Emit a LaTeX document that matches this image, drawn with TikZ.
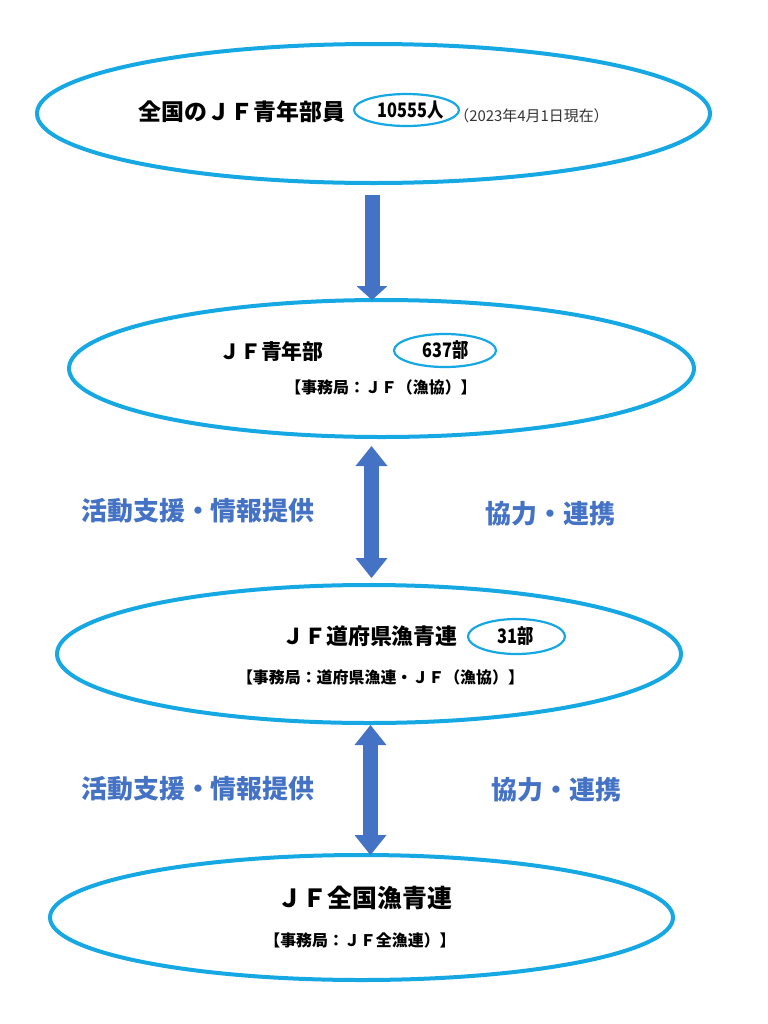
\documentclass[tikz,border=0pt]{standalone}
\usepackage{fontspec}
\setmainfont{Noto Sans CJK JP}
\newfontfamily\narrowjp[FakeStretch=0.82]{Noto Sans CJK JP}
\usetikzlibrary{shapes.geometric,arrows.meta}
\definecolor{ringcol}{HTML}{16A8E3}
\definecolor{arrcol}{HTML}{4472C4}
\begin{document}
\begin{tikzpicture}[x=1bp,y=-1bp,line join=round,
ring/.style={draw=ringcol,ellipse,line width=4bp,inner sep=0pt,outer sep=0pt},
sring/.style={draw=ringcol,ellipse,line width=2.2bp,inner sep=0pt,outer sep=0pt},
ttl/.style={font=\bfseries\fontsize{22}{24}\selectfont,inner sep=0pt},
sub/.style={font=\bfseries\fontsize{16}{18}\selectfont,inner sep=0pt},
num/.style={font=\narrowjp\bfseries\fontsize{20}{22}\selectfont,inner sep=0pt},
lbl/.style={text=arrcol,font=\bfseries\fontsize{26}{28}\selectfont,inner sep=0pt},
blk/.style={draw=arrcol,line width=15bp},
tip/.style={-{Triangle[length=#1,width=31bp,line width=0pt]}},
tips/.style={{Triangle[length=#1,width=32bp,line width=0pt]}-{Triangle[length=#1,width=32bp,line width=0pt]}}]
\useasboundingbox (0,0) rectangle (768,1024);
%\draw[gray!30] (0,0) grid[step=50] (768,1024);
\node[ring,minimum width=673bp,minimum height=139bp] (e1) at (373.5,113.5) {};
\node[ring,minimum width=625bp,minimum height=137bp] (e2) at (381.5,368.5) {};
\node[ring,minimum width=624bp,minimum height=138bp] (e3) at (369,654) {};
\node[ring,minimum width=623bp,minimum height=125bp] (e4) at (361.5,917.5) {};
\node[sring,minimum width=105bp,minimum height=32bp] (c1) at (406.5,110) {};
\node[sring,minimum width=102bp,minimum height=33bp] (c2) at (445,350.5) {};
\node[sring,minimum width=97bp,minimum height=35bp] (c3) at (516.5,636.5) {};
\node[ttl,font=\bfseries\fontsize{23}{25}\selectfont] (t1) at (242,112) {全国のＪＦ青年部員};
\node[num] (n1) at (411,110) {10555人};
\node[inner sep=0pt,text=black!80,font=\fontsize{15}{17}\selectfont] (d1) at (531.5,116) {（2023年4月1日現在）};
\node[ttl,font=\bfseries\fontsize{21}{23}\selectfont] (t2) at (271.5,352) {ＪＦ青年部};
\node[num] (n2) at (446,350) {637部};
\node[sub] (s2) at (381,387) {【事務局：ＪＦ（漁協）】};
\node[ttl] (t3) at (370,636) {ＪＦ道府県漁青連};
\node[num] (n3) at (515.5,636) {31部};
\node[sub] (s3) at (380.5,677) {【事務局：道府県漁連・ＪＦ（漁協）】};
\node[ttl,font=\bfseries\fontsize{25}{27}\selectfont] (t4) at (365,898) {ＪＦ全国漁青連};
\node[sub] (s4) at (360,940) {【事務局：ＪＦ全漁連）】};
\node[lbl] (l1) at (198,511) {活動支援・情報提供};
\node[lbl] (r1) at (550.5,514) {協力・連携};
\node[lbl] (l2) at (198,789) {活動支援・情報提供};
\node[lbl] (r2) at (556.5,790) {協力・連携};
\coordinate (ax1) at (372,0);
\coordinate (ax2) at (371.5,0);
\coordinate (ax3) at (370.5,0);
\draw[blk,tip=14bp,shorten <=12bp] (e1.south -| ax1) -- (e2.north -| ax1);
\draw[blk,tips=20bp,shorten <=9bp,shorten >=7bp] (e2.south -| ax2) -- (e3.north -| ax2);
\draw[blk,tips=20bp,shorten <=2bp] (e3.south -| ax3) -- (e4.north -| ax3);
\end{tikzpicture}
\end{document}
